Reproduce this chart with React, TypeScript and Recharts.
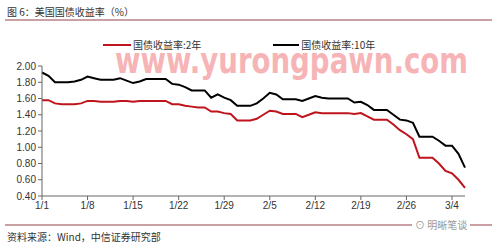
import { LineChart, Line, XAxis, YAxis } from 'recharts';

// calendar days 1/1 .. 3/6
const dates: string[] = [];
const monthDays = [31, 29, 6];
monthDays.forEach((n, m) => {
  for (let d = 1; d <= n; d++) dates.push(`${m + 1}/${d}`);
});

const yield2y = [
  1.58, 1.58, 1.54, 1.53, 1.53, 1.53, 1.54, 1.57, 1.57, 1.56,
  1.56, 1.56, 1.57, 1.57, 1.56, 1.57, 1.57, 1.57, 1.57, 1.57,
  1.53, 1.53, 1.51, 1.50, 1.49, 1.49, 1.44, 1.44, 1.42, 1.41,
  1.33, 1.33, 1.33, 1.35, 1.40, 1.45, 1.44, 1.41, 1.41, 1.41,
  1.37, 1.40, 1.43, 1.42, 1.42, 1.42, 1.42, 1.42, 1.41, 1.42,
  1.38, 1.34, 1.34, 1.34, 1.28, 1.21, 1.16, 1.10, 0.87, 0.87,
  0.87, 0.80, 0.71, 0.68, 0.60, 0.50,
];

const yield10y = [
  1.92, 1.88, 1.80, 1.80, 1.80, 1.81, 1.83, 1.87, 1.85, 1.83,
  1.83, 1.83, 1.85, 1.82, 1.79, 1.81, 1.84, 1.84, 1.84, 1.84,
  1.78, 1.77, 1.74, 1.70, 1.70, 1.70, 1.61, 1.65, 1.61, 1.58,
  1.51, 1.51, 1.51, 1.54, 1.60, 1.67, 1.65, 1.59, 1.59, 1.59,
  1.57, 1.60, 1.63, 1.61, 1.60, 1.60, 1.60, 1.60, 1.55, 1.56,
  1.52, 1.46, 1.46, 1.46, 1.40, 1.34, 1.33, 1.30, 1.13, 1.13,
  1.13, 1.08, 1.02, 1.02, 0.92, 0.75,
];

const xTicks = ['1/1', '1/8', '1/15', '1/22', '1/29', '2/5', '2/12', '2/19', '2/26', '3/4'];
const yTicks = [0.4, 0.6, 0.8, 1.0, 1.2, 1.4, 1.6, 1.8, 2.0];

const data = dates.map((date, i) => ({ date, y2: yield2y[i], y10: yield10y[i] }));

const cjk = '"Noto Sans CJK SC", "Liberation Sans", sans-serif';
const tickStyle = { fontSize: 10, fill: '#333', fontFamily: '"Liberation Sans", Arial, sans-serif' };

export default function App() {
  return (
    <div style={{ position: 'absolute', left: 0, top: 0, width: 498, height: 250, background: '#fff', overflow: 'hidden', fontFamily: cjk }}>
      <div style={{ position: 'absolute', left: 7, top: 6, fontSize: 10, color: '#333', lineHeight: '12px' }}>
        图 6：美国国债收益率（%）
      </div>
      <div style={{ position: 'absolute', left: 5, top: 19, width: 487, height: 2, background: '#c9a0a4' }} />

      {/* watermark */}
      <svg width={498} height={90} style={{ position: 'absolute', left: 0, top: 0, zIndex: 0 }}>
        <text
          x={115}
          y={73}
          fontSize={36}
          fontWeight={700}
          fill="#f6b4b6"
          fontFamily='"DejaVu Sans", sans-serif'
          textLength={353}
          lengthAdjust="spacingAndGlyphs"
        >
          www.yurongpawn.com
        </text>
      </svg>

      {/* legend */}
      <div style={{ position: 'absolute', left: 103, top: 38, fontSize: 10, color: '#333', display: 'flex', alignItems: 'center', lineHeight: '14px', zIndex: 2 }}>
        <span style={{ display: 'inline-block', width: 28, height: 2, background: '#c0141c', marginRight: 2 }} />
        <span>国债收益率:2年</span>
        <span style={{ display: 'inline-block', width: 72 }} />
        <span style={{ display: 'inline-block', width: 26, height: 2, background: '#000', marginRight: 2 }} />
        <span>国债收益率:10年</span>
      </div>

      <div style={{ position: 'absolute', left: 0, top: 0, zIndex: 1 }}>
        <LineChart width={498} height={250} data={data} margin={{ top: 66, right: 33, bottom: 34, left: 0 }}>
          <XAxis
            dataKey="date"
            ticks={xTicks}
            interval={0}
            height={20}
            tick={tickStyle}
            tickLine={{ stroke: '#666' }}
            axisLine={{ stroke: '#666' }}
            tickSize={4}
          />
          <YAxis
            domain={[0.4, 2.0]}
            ticks={yTicks}
            width={42}
            tick={tickStyle}
            tickFormatter={(v: number) => v.toFixed(2)}
            tickLine={{ stroke: '#666' }}
            axisLine={{ stroke: '#666' }}
            tickSize={4}
          />
          <Line type="linear" dataKey="y10" stroke="#000" strokeWidth={2} dot={false} isAnimationActive={false} />
          <Line type="linear" dataKey="y2" stroke="#c0141c" strokeWidth={2} dot={false} isAnimationActive={false} />
        </LineChart>
      </div>

      <div style={{ position: 'absolute', left: 5, top: 224, width: 487, height: 2, background: '#c9a0a4' }} />
      <div style={{ position: 'absolute', left: 412, top: 218, padding: '0 3px', background: '#fff', fontSize: 10, color: '#999', lineHeight: '14px', zIndex: 2 }}>
        ⊙ 明晰笔谈
      </div>
      <div style={{ position: 'absolute', left: 7, top: 231, fontSize: 10, color: '#333', lineHeight: '12px' }}>
        资料来源：Wind，中信证券研究部
      </div>
    </div>
  );
}
